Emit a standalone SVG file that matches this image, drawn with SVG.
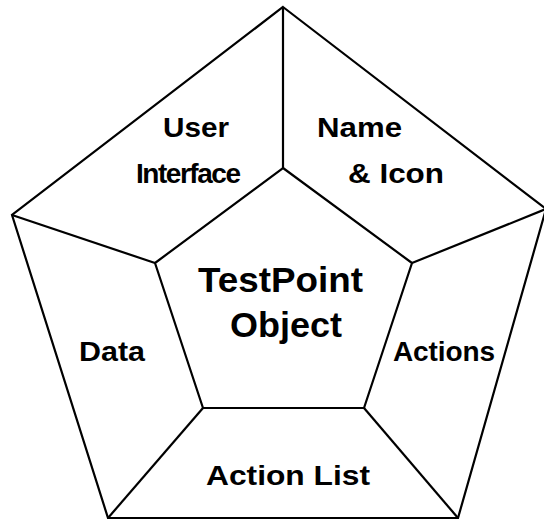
<svg xmlns="http://www.w3.org/2000/svg" width="544" height="519" viewBox="0 0 544 519">
<style>
.ln{stroke:#000;stroke-width:2.2;fill:none;stroke-linejoin:miter}
.t{font-family:"Liberation Sans",Arial,sans-serif;font-weight:bold;font-size:28px;fill:#000}
.c{font-size:35px}
</style>
<rect width="544" height="519" fill="#fff"/>
<g id="connectors">
<polygon class="ln" points="283,7 546,209 458,518 108,518 12,215"/>
<polygon class="ln" points="283,168 412,263 364,408 203,408 155,263"/>
<line class="ln" x1="283" y1="7" x2="283" y2="168"/>
<line class="ln" x1="546" y1="209" x2="412" y2="263"/>
<line class="ln" x1="458" y1="518" x2="364" y2="408"/>
<line class="ln" x1="108" y1="518" x2="203" y2="408"/>
<line class="ln" x1="12" y1="215" x2="155" y2="263"/>
</g>
<g id="center"><text class="t c" x="198" y="292" textLength="165" lengthAdjust="spacingAndGlyphs">TestPoint</text><text class="t c" x="230" y="337" textLength="112" lengthAdjust="spacingAndGlyphs">Object</text></g>
<g id="user-interface"><text class="t" x="163" y="137" textLength="66" lengthAdjust="spacingAndGlyphs">User</text><text class="t" x="136" y="183" textLength="105" lengthAdjust="spacing">Interface</text></g>
<g id="name-icon"><text class="t" x="317" y="137" textLength="85" lengthAdjust="spacingAndGlyphs">Name</text><text class="t" x="348" y="183" textLength="96" lengthAdjust="spacingAndGlyphs">&amp; Icon</text></g>
<g id="data"><text class="t" x="79" y="361" textLength="66" lengthAdjust="spacingAndGlyphs">Data</text></g>
<g id="actions"><text class="t" x="393" y="361" textLength="102" lengthAdjust="spacing">Actions</text></g>
<g id="action-list"><text class="t" x="206" y="485" textLength="164" lengthAdjust="spacingAndGlyphs">Action List</text></g>
</svg>
